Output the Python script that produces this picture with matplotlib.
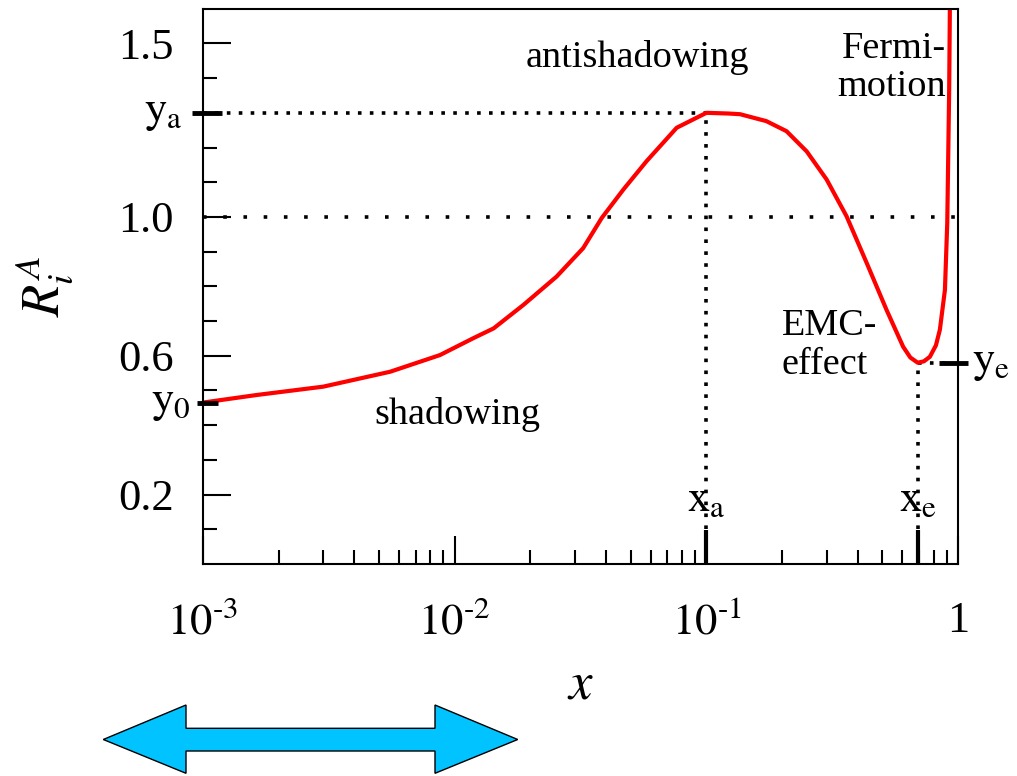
import matplotlib
matplotlib.use('Agg')
import matplotlib.pyplot as plt
from matplotlib.patches import Polygon
from matplotlib.ticker import FixedLocator, LogLocator, NullFormatter

plt.rcParams['font.family'] = ['Liberation Serif', 'DejaVu Serif']
plt.rcParams['mathtext.fontset'] = 'stix'

# nuclear modification ratio R_i^A vs x
x_vals = [0.001, 0.00164, 0.00301, 0.00555, 0.00875, 0.0119, 0.0143, 0.0188,
          0.0254, 0.0324, 0.0384, 0.0468, 0.0579, 0.0762, 0.1, 0.122, 0.136,
          0.173, 0.208, 0.25, 0.30, 0.36, 0.433, 0.519, 0.604, 0.645, 0.69,
          0.73, 0.771, 0.815, 0.845, 0.885, 0.904, 0.912, 0.920, 0.927]
r_vals = [0.465, 0.487, 0.511, 0.554, 0.602, 0.651, 0.679, 0.747,
          0.828, 0.910, 0.997, 1.079, 1.161, 1.257, 1.300, 1.298, 1.296,
          1.276, 1.247, 1.189, 1.108, 1.002, 0.867, 0.732, 0.626, 0.595, 0.580,
          0.584, 0.597, 0.630, 0.675, 0.790, 0.983, 1.175, 1.368, 1.65]

x_a, y_a = 0.1, 1.30
x_e, y_e = 0.69, 0.58
y_0 = 0.463

y_major = [0.2, 0.6, 1.0, 1.5]
y_major_labels = ['0.2', '0.6', '1.0', '1.5']
y_minor = [0.1, 0.3, 0.4, 0.5, 0.7, 0.8, 0.9, 1.1, 1.2, 1.3, 1.4]
x_major = [1e-3, 1e-2, 1e-1, 1]
x_major_labels = ['$10^{\u20103}$', '$10^{\u20102}$', '$10^{\u20101}$', '1']

W, H = 1017, 776
fig = plt.figure(figsize=(W / 100, H / 100), dpi=100)
ax = fig.add_axes([202.7 / W, 1 - 564 / H, 755.6 / W, 555.3 / H])

ax.set_xscale('log')
ax.set_xlim(1e-3, 1)
ax.set_ylim(0, 1.6)

dot = dict(color='black', lw=2.6, solid_capstyle='butt', dash_capstyle='butt')
ax.plot([1e-3, 1], [1.0, 1.0], linestyle=(0, (1, 4.6)), **dot)
ax.plot([1e-3, x_a], [y_a, y_a], linestyle=(0, (1, 2.3)), **dot)
ax.plot([x_a, x_a], [0.1, y_a], linestyle=(0, (1, 2.3)), **dot)
ax.plot([x_e, x_e], [0.1, y_e], linestyle=(0, (1, 2.3)), **dot)
ax.plot([x_e, 0.93], [y_e, y_e], linestyle=(0, (1, 2.3)), **dot)

ax.plot(x_vals, r_vals, color='red', lw=3)

# axes styling
for s in ax.spines.values():
    s.set_linewidth(1.5)
ax.set_xticks(x_major)
ax.set_xticklabels(x_major_labels)
ax.xaxis.set_minor_locator(LogLocator(base=10, subs=range(2, 10)))
ax.xaxis.set_minor_formatter(NullFormatter())
ax.set_yticks(y_major)
ax.set_yticklabels(y_major_labels)
ax.yaxis.set_minor_locator(FixedLocator(y_minor))
ax.tick_params(which='both', direction='in', width=1.5, top=False, right=False)
ax.tick_params(which='major', length=20)
ax.tick_params(which='minor', length=10)
ax.tick_params(axis='y', which='major', labelsize=32, pad=21)
ax.tick_params(axis='x', which='major', labelsize=32, pad=27)

# special thick ticks
bt = ax.get_yaxis_transform()
ax.plot([-0.014, 0.025], [y_a, y_a], color='black', lw=3.5, transform=bt,
        clip_on=False, solid_capstyle='butt')
ax.plot([-0.008, 0.02], [y_0, y_0], color='black', lw=3.5, transform=bt,
        clip_on=False, solid_capstyle='butt')
ax.plot([0.975, 1.013], [y_e, y_e], color='black', lw=3.5, transform=bt,
        clip_on=False, solid_capstyle='butt')
bx = ax.get_xaxis_transform()
ax.plot([x_a, x_a], [0, 0.061], color='black', lw=3, transform=bx,
        solid_capstyle='butt')
ax.plot([x_e, x_e], [0, 0.061], color='black', lw=3, transform=bx,
        solid_capstyle='butt')

ax.text(-0.026, y_a, r'$\mathrm{y_a}$', transform=bt, ha='right', va='center', fontsize=32)
ax.text(-0.016, y_0, r'$\mathrm{y_0}$', transform=bt, ha='right', va='center', fontsize=32)
ax.text(1.018, y_e, r'$\mathrm{y_e}$', transform=bt, ha='left', va='center', fontsize=32)
ax.text(x_a, 0.08, r'$\mathrm{x_a}$', transform=bx, ha='center', va='bottom', fontsize=32)
ax.text(x_e, 0.08, r'$\mathrm{x_e}$', transform=bx, ha='center', va='bottom', fontsize=32)

# region labels
ax.text(0.0534, 1.46, 'antishadowing', ha='center', va='center', fontsize=27.5)
ax.text(0.0103, 0.432, 'shadowing', ha='center', va='center', fontsize=27.5)
ax.text(0.89, 1.43, 'Fermi-\nmotion', ha='right', va='center', fontsize=27.5,
        linespacing=1.15)
ax.text(0.199, 0.63, 'EMC-\neffect', ha='left', va='center', fontsize=27.5,
        linespacing=1.15)

ax.set_xlabel(r'$x$', fontsize=38, labelpad=14)
ax.set_ylabel(r'$R_i^A$', fontsize=38, labelpad=30)

# double arrow below the x axis
pts = [(103.3, 739.5), (186, 705), (186, 728.3), (435, 728.3), (435, 705),
       (517.7, 739.5), (435, 773.3), (435, 751), (186, 751), (186, 773.3)]
fig.patches.append(Polygon([(px / W, 1 - py / H) for px, py in pts], closed=True,
                           facecolor='#00C3FF', edgecolor='black', lw=1,
                           transform=fig.transFigure))

fig.savefig('out.png', dpi=100)
